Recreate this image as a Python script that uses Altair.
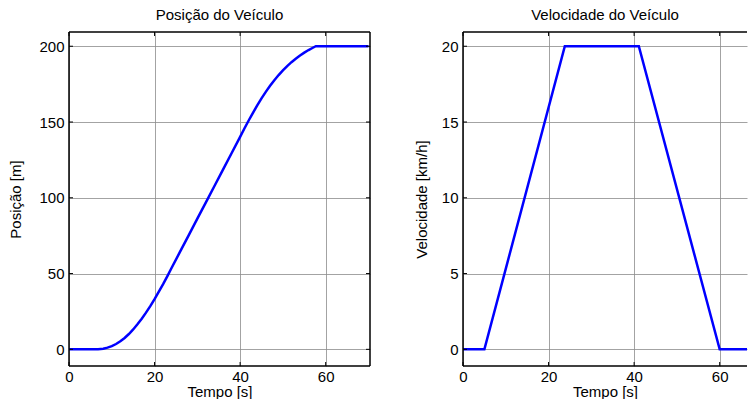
import altair as alt
import pandas as pd

# ---- data ----
pos_t = [0, 6.8, 8, 9, 10, 11, 12, 13, 14, 15, 16, 17, 18, 19, 20, 21, 22, 23, 24,
         26, 28, 30, 32, 34, 36, 38, 40, 41, 42, 43, 44, 45, 46, 47, 48, 49, 50,
         51, 52, 53, 54, 55, 56, 57, 57.7, 70]
pos_m = [0, 0, 0.4, 1.1, 2.1, 3.5, 5.3, 7.5, 10.1, 13.1, 16.5, 20.2, 24.2, 28.5, 33.1,
         38.0, 43.0, 48.3, 53.8,
         64.6, 75.4, 86.2, 97.0, 107.8, 118.6, 129.4, 140.2, 145.7, 151.0, 156.1, 161.0,
         165.6, 169.9, 173.9, 177.6, 181.0, 184.1, 186.9, 189.5, 191.8, 193.9, 195.8,
         197.5, 199.0, 200, 200]

vel_t = [0, 5, 23.8, 41.1, 60, 70]
vel_kmh = [0, 0, 20, 20, 0, 0]

x_ticks = [0, 20, 40, 60]
pos_ticks = [0, 50, 100, 150, 200]
vel_ticks = [0, 5, 10, 15, 20]

titles = ["Posição do Veículo", "Velocidade do Veículo"]
y_titles = ["Posição [m]", "Velocidade [km/h]"]
x_title = "Tempo [s]"

FONT = "Liberation Sans"
H = 334
W_L = 301
W_R = 284
FS = 15


def panel(t, v, ytitle, ydom, yticks, xmax, width, title, right_frame, ytp):
    xs = alt.Scale(domain=[0, xmax], nice=False, zero=False, clamp=True)
    ys = alt.Scale(domain=ydom, nice=False, zero=False)
    xa = alt.Axis(values=x_ticks, title=x_title, grid=True, ticks=False,
                  domain=False, labelPadding=3, titlePadding=0, labelFlush=False)
    ya = alt.Axis(values=yticks, title=ytitle, grid=True, ticks=False,
                  domain=False, labelPadding=5, titlePadding=ytp)
    df = pd.DataFrame({"t": t, "v": v})
    xt = pd.DataFrame({"t": [a for a in x_ticks if a <= xmax]})
    yt = pd.DataFrame({"v": yticks})
    one = pd.DataFrame({"a": [0]})

    line = alt.Chart(df).mark_line(color="#0000FF", strokeWidth=2.5, clip=True).encode(
        x=alt.X("t:Q", scale=xs, axis=xa),
        y=alt.Y("v:Q", scale=ys, axis=ya),
    )
    bt = alt.Chart(xt).mark_rule(color="black", strokeWidth=1).encode(
        x=alt.X("t:Q", scale=xs, axis=xa), y=alt.value(H), y2=alt.value(H - 4))
    tt = alt.Chart(xt).mark_rule(color="black", strokeWidth=1).encode(
        x=alt.X("t:Q", scale=xs, axis=xa), y=alt.value(0), y2=alt.value(4))
    lt = alt.Chart(yt).mark_rule(color="black", strokeWidth=1).encode(
        y=alt.Y("v:Q", scale=ys, axis=ya), x=alt.value(0), x2=alt.value(4))
    layers = [line, bt, tt, lt]
    frame_style = dict(color="black", strokeWidth=1.5)
    layers.append(alt.Chart(one).mark_rule(**frame_style).encode(
        x=alt.value(0), x2=alt.value(width), y=alt.value(0)))
    layers.append(alt.Chart(one).mark_rule(**frame_style).encode(
        x=alt.value(0), x2=alt.value(width), y=alt.value(H)))
    layers.append(alt.Chart(one).mark_rule(**frame_style).encode(
        x=alt.value(0), y=alt.value(0), y2=alt.value(H)))
    if right_frame:
        rt = alt.Chart(yt).mark_rule(color="black", strokeWidth=1).encode(
            y=alt.Y("v:Q", scale=ys, axis=ya), x=alt.value(width), x2=alt.value(width - 4))
        layers.append(rt)
        layers.append(alt.Chart(one).mark_rule(**frame_style).encode(
            x=alt.value(width), y=alt.value(0), y2=alt.value(H)))
    return alt.layer(*layers).properties(
        width=width, height=H,
        title=alt.TitleParams(title, font=FONT, fontSize=FS, fontWeight="normal",
                              color="black", offset=8),
    )


left = panel(pos_t, pos_m, y_titles[0], [-11, 209.4], pos_ticks, 70.36, W_L, titles[0], True, 15)
right = panel(vel_t, vel_kmh, y_titles[1], [-1.1, 20.94], vel_ticks, W_R / 4.278, W_R, titles[1], False, 12)

chart = alt.hconcat(left, right, spacing=93, bounds="flush").configure_axis(
    labelFont=FONT, titleFont=FONT, labelFontSize=FS, titleFontSize=FS,
    labelColor="black", titleColor="black", titleFontWeight="normal",
    gridColor="#8c8c8c", gridWidth=1, gridOpacity=0.8,
).configure_view(stroke=None).properties(padding=0)

chart.save("out.html", embed_options={"renderer": "svg", "actions": False})
